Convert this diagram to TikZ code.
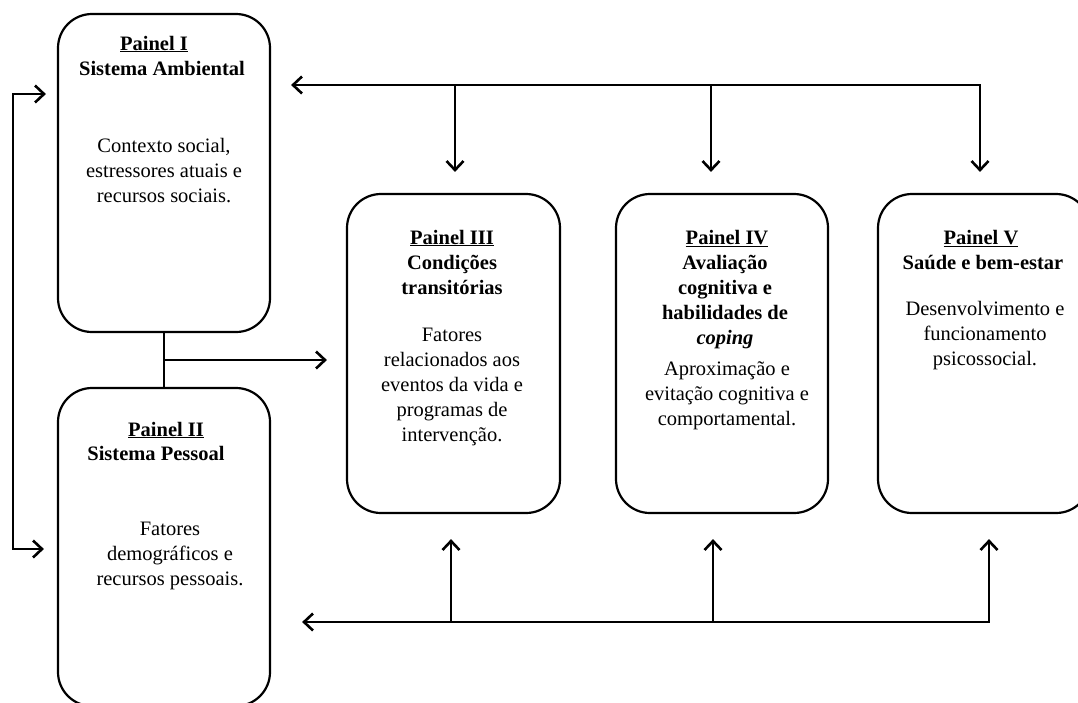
\documentclass[tikz,border=0pt]{standalone}
\usepackage{fontspec}
\setmainfont{Liberation Serif}
\usetikzlibrary{arrows.meta,calc}
\begin{document}
\begin{tikzpicture}[x=1pt,y=-1pt,
  panel/.style={draw, line width=2.2pt, rounded corners=34pt, minimum width=212pt, minimum height=319pt, inner sep=0pt},
  txt/.style={font=\fontsize{20.5}{25}\selectfont, inner sep=0pt, align=center},
  head/.style={txt, anchor=base, font=\fontsize{20.5}{25}\selectfont\bfseries},
  btxt/.style={txt, anchor=north, font=\fontsize{20.5}{25}\selectfont\bfseries},
  body/.style={txt, anchor=north},
  tip/.style={Straight Barb[length=9pt,width=17pt]},
  conn/.style={line width=2.6pt, -{Straight Barb[length=9pt,width=17pt]}},
  both/.style={line width=2.6pt, {Straight Barb[length=9pt,width=17pt]}-{Straight Barb[length=9pt,width=17pt]}},
  plain/.style={line width=2.6pt}]
\useasboundingbox (0,0) rectangle (1078,702);

% panels
\node[panel, minimum height=318pt] (p1) at (164,173) {};
\node[panel, minimum height=318pt] (p2) at (164,547) {};
\node[panel, minimum width=213pt] (p3) at (453.5,353.5) {};
\node[panel] (p4) at (722,353.5) {};
\node[panel] (p5) at (984,353.5) {};

% Panel I
\node[head] (p1h) at (154,50) {\underline{Painel I}};
\node[head] (p1s) at (162,75) {Sistema Ambiental};
\node[body] (p1b) at (164,138) {Contexto social,\\estressores atuais e\\recursos sociais.};

% Panel II
\node[head] (p2h) at (166,436) {\underline{Painel II}};
\node[head] (p2s) at (156,460) {Sistema Pessoal};
\node[body] (p2b) at (170,522) {Fatores\\demográficos e\\recursos pessoais.};

% Panel III
\node[head] (p3h) at (452,244) {\underline{Painel III}};
\node[btxt] (p3s) at (452,255) {Condições\\transitórias};
\node[body] (p3b) at (452,328) {Fatores\\relacionados aos\\eventos da vida e\\programas de\\intervenção.};

% Panel IV
\node[head] (p4h) at (727,244) {\underline{Painel IV}};
\node[btxt] (p4s) at (725,255) {Avaliação\\cognitiva e\\habilidades de\\\textit{coping}};
\node[body] (p4b) at (727,361) {Aproximação e\\evitação cognitiva e\\comportamental.};

% Panel V
\node[head] (p5h) at (981,244) {\underline{Painel V}};
\node[head] (p5s) at (983,269) {Saúde e bem-estar};
\node[body] (p5b) at (985,301) {Desenvolvimento e\\funcionamento\\psicossocial.};

% top feedback line
\coordinate (t3) at (455,85);
\coordinate (t4) at (711,85);
\coordinate (t5) at (980,85);
\draw[both] ($(p1.east |- t5)+(20,0)$) -- (t5) -- ($(t5 |- p5.north)+(0,-21)$);
\draw[conn] (t3) -- ($(t3 |- p3.north)+(0,-21)$);
\draw[conn] (t4) -- ($(t4 |- p4.north)+(0,-21)$);

% bottom feedback line
\coordinate (b3) at (451,622);
\coordinate (b4) at (713,622);
\coordinate (b5) at (989,622);
\draw[both] ($(p2.east |- b5)+(31,0)$) -- (b5) -- ($(b5 |- p5.south)+(0,25)$);
\draw[conn] (b3) -- ($(b3 |- p3.south)+(0,25)$);
\draw[conn] (b4) -- ($(b4 |- p4.south)+(0,25)$);

% left loop
\coordinate (l1) at (13,94);
\coordinate (l2) at (13,549);
\draw[both] ($(p1.west |- l1)+(-11,0)$) -- (l1) -- (l2) -- ($(p2.west |- l2)+(-13,0)$);

% link between Panel I and II, to Panel III
\draw[plain] (p1.south) -- (p2.north);
\coordinate (m) at ($(p1.south)!0.5!(p2.north)$);
\draw[conn] (m) -- ($(m -| p3.west)+(-19,0)$);
\end{tikzpicture}
\end{document}
